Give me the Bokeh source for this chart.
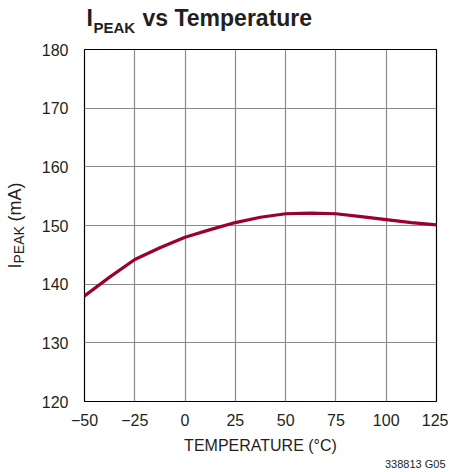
from bokeh.plotting import figure
from bokeh.models import FixedTicker, Range1d, Title
from bokeh.embed import file_html
from bokeh.resources import INLINE

temperature = [-50, -37.5, -25, -12.5, 0, 12.5, 25, 37.5, 50, 62.5, 75, 87.5, 100, 112.5, 125]
i_peak = [138.0, 141.2, 144.2, 146.2, 148.0, 149.3, 150.5, 151.4, 152.0, 152.1, 152.0, 151.5, 151.0, 150.5, 150.1]
x_ticks = [-50, -25, 0, 25, 50, 75, 100, 125]
y_ticks = [120, 130, 140, 150, 160, 170, 180]

FONT = "Liberation Sans"
INK = "#231f20"

p = figure(width=448, height=471, output_backend="svg", toolbar_location=None,
           x_range=Range1d(-50, 125), y_range=Range1d(120, 180),
           min_border_left=84, min_border_right=12, min_border_top=49, min_border_bottom=70)
p.background_fill_color = "white"
p.border_fill_color = "white"
p.outline_line_color = "black"
p.outline_line_width = 1.2

for ax in (p.xaxis[0], p.yaxis[0]):
    ax.axis_line_color = None
    ax.major_tick_line_color = None
    ax.minor_tick_line_color = None
    ax.major_label_text_font = FONT
    ax.major_label_text_font_size = "16px"
    ax.major_label_text_color = INK

p.xaxis[0].ticker = FixedTicker(ticks=x_ticks)
p.xaxis[0].major_label_overrides = {t: str(t).replace("-", "\u2212") for t in x_ticks}
p.xaxis[0].major_label_standoff = 6
p.xaxis[0].axis_label = "TEMPERATURE (\u00b0C)"
p.xaxis[0].axis_label_text_font = FONT
p.xaxis[0].axis_label_text_font_size = "16px"
p.xaxis[0].axis_label_text_font_style = "normal"
p.xaxis[0].axis_label_text_color = INK
p.xaxis[0].axis_label_standoff = 8

p.yaxis[0].ticker = FixedTicker(ticks=y_ticks)
p.yaxis[0].major_label_standoff = 10

p.xgrid.ticker = FixedTicker(ticks=x_ticks)
p.ygrid.ticker = FixedTicker(ticks=y_ticks)
for g in (p.xgrid[0], p.ygrid[0]):
    g.grid_line_color = "#8a8a8a"
    g.grid_line_width = 1.2

p.line(temperature, i_peak, line_color="#990033", line_width=3.2, line_join="round", line_cap="round")


def title(text, size, offset, standoff, style="bold", align="left"):
    return Title(text=text, text_font=FONT, text_font_size=size, text_font_style=style,
                 text_color=INK, align=align, offset=offset, standoff=standoff)


# Chart title "I_PEAK vs Temperature" (stacked title panels; spacer first)
p.add_layout(title("\u00a0", "10px", 0, 2.2), "above")
p.add_layout(title("PEAK", "15px", 9, -2.2), "above")
p.add_layout(title("I", "23px", 2, -27.7), "above")
p.add_layout(title("vs Temperature", "23px", 58, -27.7), "above")

# Y axis label "I_PEAK (mA)" (stacked title panels on the left; spacer first)
p.add_layout(title("\u00a0", "10px", 0, 2.5, style="normal"), "left")
p.add_layout(title("PEAK", "14px", 138, -8.7, style="normal"), "left")
p.add_layout(title("I", "18px", 133, -22.1, style="normal"), "left")
p.add_layout(title("(mA)", "18px", 180, -22.1, style="normal"), "left")

# figure code
p.add_layout(title("338813 G05", "11px", -9, -2, style="normal", align="right"), "below")

open("out.html", "w").write(file_html(p, INLINE))
